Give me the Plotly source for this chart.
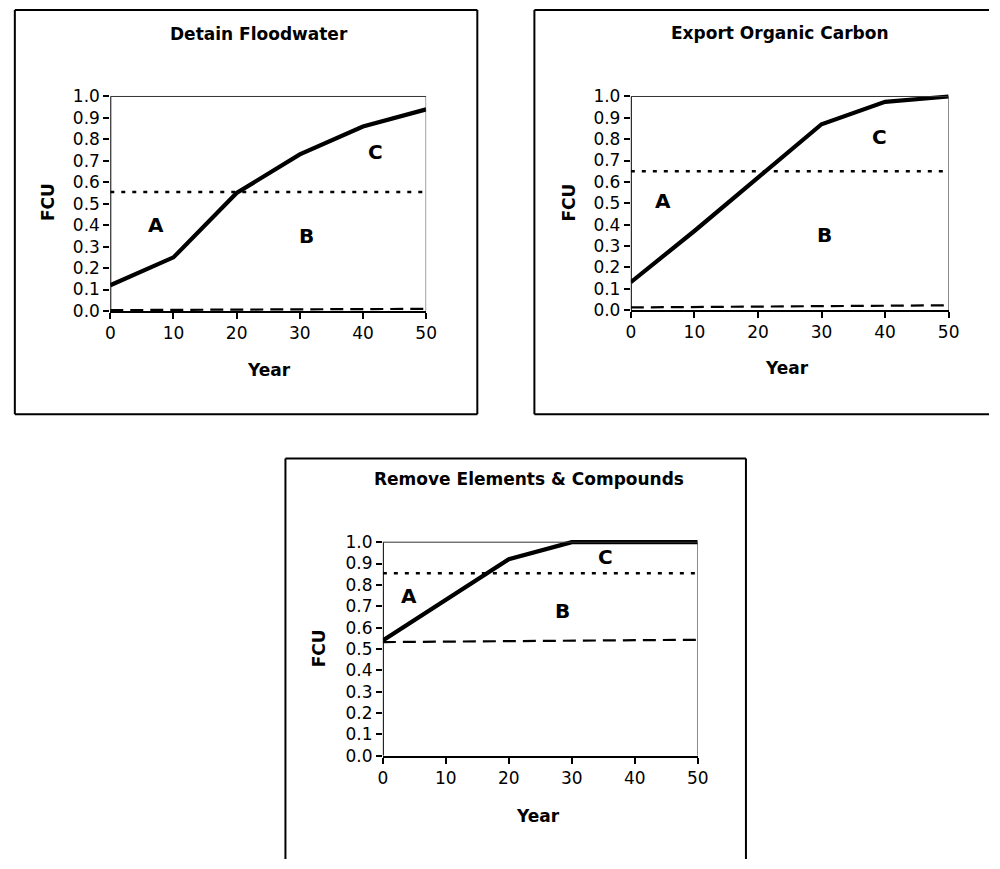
import plotly.graph_objects as go

W, H = 1000, 869
FONT = "DejaVu Sans"

# ---- data -------------------------------------------------------------
years = [0, 10, 20, 30, 40, 50]
ref_years = [0, 50]
tick_years = [0, 10, 20, 30, 40, 50]
tick_fcu = [0.0, 0.1, 0.2, 0.3, 0.4, 0.5, 0.6, 0.7, 0.8, 0.9, 1.0]

titles = ["Detain Floodwater", "Export Organic Carbon", "Remove Elements & Compounds"]

fcu_detain = [0.12, 0.25, 0.55, 0.73, 0.86, 0.94]
fcu_export = [0.13, 0.37, 0.62, 0.87, 0.975, 1.0]
fcu_remove = [0.54, 0.73, 0.92, 1.0, 1.0, 1.0]

upper_detain = [0.555, 0.555]
upper_export = [0.65, 0.65]
upper_remove = [0.855, 0.855]

lower_detain = [0.004, 0.010]
lower_export = [0.012, 0.022]
lower_remove = [0.532, 0.543]

zone_names = ["A", "B", "C"]
zone_x_detain = [7.2, 31.0, 42.0]
zone_y_detain = [0.40, 0.35, 0.74]
zone_x_export = [5.1, 30.4, 39.1]
zone_y_export = [0.51, 0.35, 0.81]
zone_x_remove = [4.1, 28.5, 35.4]
zone_y_remove = [0.75, 0.68, 0.93]

series = [
    (fcu_detain, upper_detain, lower_detain, zone_x_detain, zone_y_detain),
    (fcu_export, upper_export, lower_export, zone_x_export, zone_y_export),
    (fcu_remove, upper_remove, lower_remove, zone_x_remove, zone_y_remove),
]

# ---- panel geometry (pixels) -----------------------------------------
# plot: left, right, bottom(y=0), top(y=1)
# frame: x0, x1, y0, y1 and which sides are drawn (top, right, bottom, left)
panels = [
    dict(plot=(107, 428, 312, 94), frame=(10, 480, 6, 417), sides="trbl",
         title=(258, 30), ylab=(43, 201), xlab=(268, 372)),
    dict(plot=(636, 959, 311, 94), frame=(538, 1000, 6, 417), sides="tbl",
         title=(788, 29), ylab=(573, 202), xlab=(795, 370)),
    dict(plot=(384, 704, 764, 547), frame=(285, 753, 462, 869), sides="trl",
         title=(533, 483), ylab=(320, 655), xlab=(542, 825)),
]

Y_TOP = 1.03  # a little headroom so lines at 1.0 are not clipped


def px(x):
    return x / W


def py(y):
    return 1 - y / H


def border(x0, y0, x1, y1):
    return dict(type="line", xref="paper", yref="paper",
                x0=px(x0), x1=px(x1), y0=py(y0), y1=py(y1),
                line=dict(color="black", width=2))


fig = go.Figure()
shapes = []
annotations = []

for i, (panel, (fcu, upper, lower, zx, zy)) in enumerate(zip(panels, series)):
    n = "" if i == 0 else str(i + 1)
    xa, ya = "x" + n, "y" + n
    left, right, bottom, top = panel["plot"]
    unit = bottom - top
    top_ext = bottom - unit * Y_TOP

    fig.add_trace(go.Scatter(x=ref_years, y=lower, mode="lines", xaxis=xa, yaxis=ya,
                             line=dict(color="black", width=2.2, dash="13px,7px"),
                             showlegend=False, hoverinfo="skip"))
    fig.add_trace(go.Scatter(x=ref_years, y=upper, mode="lines", xaxis=xa, yaxis=ya,
                             line=dict(color="black", width=2.5, dash="4px,7px"),
                             showlegend=False, hoverinfo="skip"))
    fig.add_trace(go.Scatter(x=years, y=fcu, mode="lines", xaxis=xa, yaxis=ya,
                             line=dict(color="black", width=4.2),
                             showlegend=False))

    fig.update_layout(**{
        "xaxis" + n: dict(domain=[px(left), px(right)], range=[0, 50], anchor=ya,
                          tickvals=tick_years, ticks="outside", ticklen=6, tickwidth=2,
                          tickcolor="black", showline=True, linewidth=2, linecolor="black",
                          showgrid=False, zeroline=False,
                          tickfont=dict(family=FONT, size=17, color="black")),
        "yaxis" + n: dict(domain=[py(bottom), py(top_ext)], range=[0, Y_TOP], anchor=xa,
                          tickvals=tick_fcu, ticktext=[f"{v:.1f}" for v in tick_fcu],
                          ticks="outside", ticklen=6, tickwidth=2, tickcolor="black",
                          showline=False, showgrid=False, zeroline=False,
                          tickfont=dict(family=FONT, size=17, color="black")),
    })

    # axis line on the left, thin frame on top and right
    shapes.append(dict(type="line", xref=xa, yref=ya, x0=0, x1=0, y0=0, y1=1,
                       line=dict(color="black", width=2)))
    shapes.append(dict(type="line", xref=xa, yref=ya, x0=0, x1=50, y0=1, y1=1,
                       line=dict(color="#333333", width=1)))
    shapes.append(dict(type="line", xref=xa, yref=ya, x0=50, x1=50, y0=0, y1=1,
                       line=dict(color="#333333", width=1)))

    # outer panel border
    fx0, fx1, fy0, fy1 = panel["frame"]
    sides = panel["sides"]
    if "t" in sides:
        shapes.append(border(fx0, fy0, fx1, fy0))
    if "b" in sides:
        shapes.append(border(fx0, fy1, fx1, fy1))
    if "l" in sides:
        shapes.append(border(fx0, fy0, fx0, fy1))
    if "r" in sides:
        shapes.append(border(fx1, fy0, fx1, fy1))

    tx, ty = panel["title"]
    annotations.append(dict(text=f"<b>{titles[i]}</b>", xref="paper", yref="paper",
                            x=px(tx), y=py(ty), showarrow=False, xanchor="center",
                            yanchor="middle", font=dict(family=FONT, size=17, color="black")))
    lx, ly = panel["ylab"]
    annotations.append(dict(text="<b>FCU</b>", xref="paper", yref="paper", textangle=-90,
                            x=px(lx), y=py(ly), showarrow=False, xanchor="center",
                            yanchor="middle", font=dict(family=FONT, size=17, color="black")))
    bx, by = panel["xlab"]
    annotations.append(dict(text="<b>Year</b>", xref="paper", yref="paper",
                            x=px(bx), y=py(by), showarrow=False, xanchor="center",
                            yanchor="middle", font=dict(family=FONT, size=17, color="black")))

    for name, x, y in zip(zone_names, zx, zy):
        annotations.append(dict(text=f"<b>{name}</b>", xref=xa, yref=ya, x=x, y=y,
                                showarrow=False, xanchor="center", yanchor="middle",
                                font=dict(family=FONT, size=20, color="black")))

fig.update_layout(width=W, height=H, margin=dict(l=0, r=0, t=0, b=0),
                  paper_bgcolor="white", plot_bgcolor="white",
                  shapes=shapes, annotations=annotations, showlegend=False)

fig.write_html("out.html",
               post_script="document.body.style.margin='0px';"
                           "document.body.style.overflow='hidden';")
